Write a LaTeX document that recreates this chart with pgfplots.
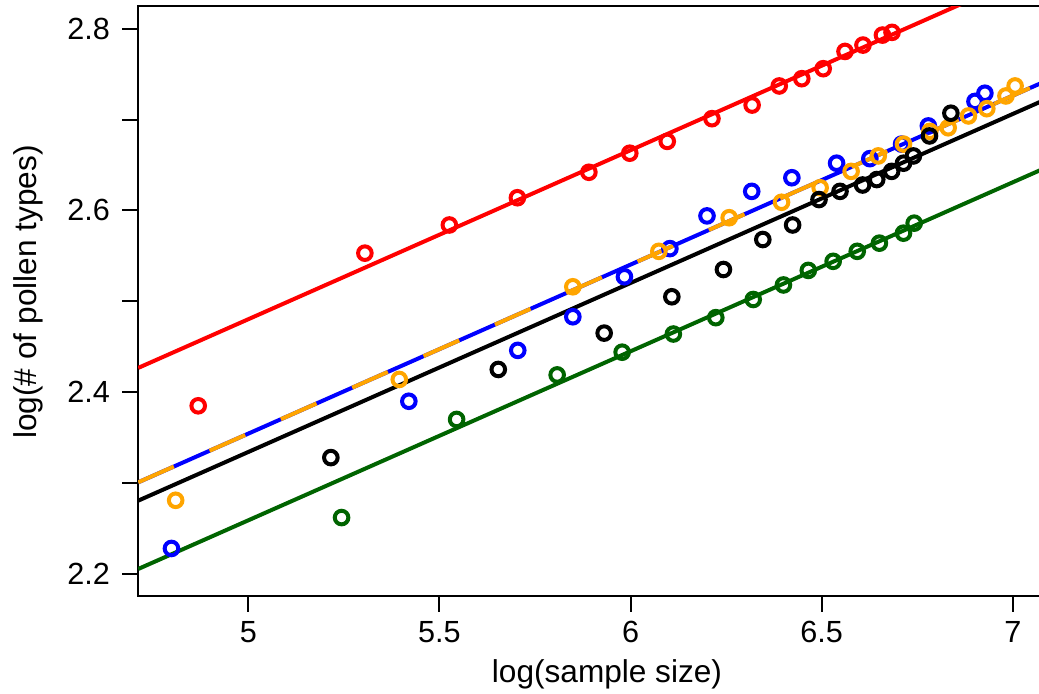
\documentclass[border=0pt]{standalone}
\usepackage{fontspec}
\setmainfont{Liberation Sans}
\usepackage{pgfplots}
\usepackage{pgfplotstable}
\pgfplotsset{compat=1.18}
\definecolor{rorange}{RGB}{255,165,0}
\definecolor{rgreen}{RGB}{0,100,0}
\definecolor{rred}{RGB}{255,0,0}
\definecolor{rblue}{RGB}{0,0,255}

\pgfplotstableread{
x y
4.869 2.385
5.305 2.553
5.526 2.584
5.704 2.614
5.891 2.642
5.998 2.663
6.096 2.676
6.213 2.701
6.318 2.716
6.389 2.737
6.448 2.745
6.504 2.756
6.561 2.775
6.608 2.782
6.659 2.793
6.684 2.796
}\redpts

\pgfplotstableread{
x y
4.799 2.228
5.420 2.390
5.705 2.446
5.849 2.483
5.984 2.527
6.103 2.558
6.200 2.594
6.317 2.621
6.422 2.636
6.539 2.652
6.626 2.657
6.709 2.673
6.779 2.693
6.901 2.720
6.927 2.729
}\bluepts

\pgfplotstableread{
x y
4.810 2.281
5.395 2.414
5.849 2.516
6.074 2.555
6.258 2.592
6.395 2.609
6.496 2.625
6.577 2.643
6.648 2.660
6.714 2.673
6.783 2.687
6.831 2.691
6.884 2.704
6.932 2.712
6.982 2.726
7.006 2.737
}\orangepts

\pgfplotstableread{
x y
5.216 2.328
5.654 2.425
5.931 2.465
6.108 2.505
6.243 2.535
6.346 2.568
6.424 2.584
6.493 2.612
6.548 2.621
6.607 2.628
6.644 2.634
6.683 2.643
6.714 2.652
6.740 2.660
6.782 2.682
6.838 2.707
}\blackpts

\pgfplotstableread{
x y
5.244 2.262
5.545 2.370
5.808 2.419
5.978 2.444
6.112 2.464
6.223 2.482
6.321 2.502
6.400 2.518
6.465 2.534
6.530 2.544
6.593 2.555
6.651 2.564
6.714 2.575
6.742 2.586
}\greenpts

\begin{document}
\begin{tikzpicture}
\begin{axis}[
  at={(0,0)}, anchor=south west,
  scale only axis,
  width=453.55pt, height=294.85pt,
  xmin=4.712, xmax=7.085,
  ymin=2.176, ymax=2.825,
  axis line style={line width=1pt, black},
  every tick/.style={line width=1pt, black},
  tick align=outside,
  major tick length=8pt,
  xtick pos=bottom, ytick pos=left,
  xtick={5,5.5,6,6.5,7},
  xticklabels={5,5.5,6,6.5,7},
  ytick={2.2,2.3,2.4,2.5,2.6,2.7,2.8},
  yticklabels={2.2,,2.4,,2.6,,2.8},
  /pgf/number format/assume math mode=true,
  tick label style={font=\fontsize{15.3}{18}\selectfont},
  xticklabel style={anchor=base, yshift=-15.3pt},
  yticklabel style={anchor=east, inner sep=0pt, xshift=-6pt},
  label style={font=\fontsize{15.8}{19}\selectfont},
  xlabel={log(sample size)},
  ylabel={log(\# of pollen types)},
  xlabel style={at={(axis description cs:0.5168,-0.148)}, anchor=base},
  ylabel style={at={(axis description cs:-0.1122,0.515)}, anchor=base, rotate=0},
  every axis plot/.append style={line width=2pt},
  mark options={solid, line width=2pt},
]
% red
\addplot[rred, no markers] coordinates {(4.712,2.4267) (7.085,2.8681)};
\addplot[rred, only marks, mark=o, mark size=3.4pt] table {\redpts};
% blue
\addplot[rblue, no markers] coordinates {(4.712,2.3008) (7.085,2.7422)};
\addplot[rblue, only marks, mark=o, mark size=3.4pt] table {\bluepts};
% orange
\addplot[rorange, only marks, mark=o, mark size=3.4pt] table {\orangepts};
\addplot[rorange, no markers, dash pattern=on 19.5pt off 19.5pt] coordinates {(4.712,2.3008) (7.085,2.7422)};
% black
\addplot[black, no markers] coordinates {(4.712,2.2806) (7.085,2.7220)};
\addplot[black, only marks, mark=o, mark size=3.4pt] table {\blackpts};
% green
\addplot[rgreen, no markers] coordinates {(4.712,2.2054) (7.085,2.6468)};
\addplot[rgreen, only marks, mark=o, mark size=3.4pt] table {\greenpts};
\end{axis}
\pgfresetboundingbox
\path[use as bounding box] (-69.1pt,-48.65pt) rectangle (450.4pt,297.85pt);
\end{tikzpicture}
\end{document}
